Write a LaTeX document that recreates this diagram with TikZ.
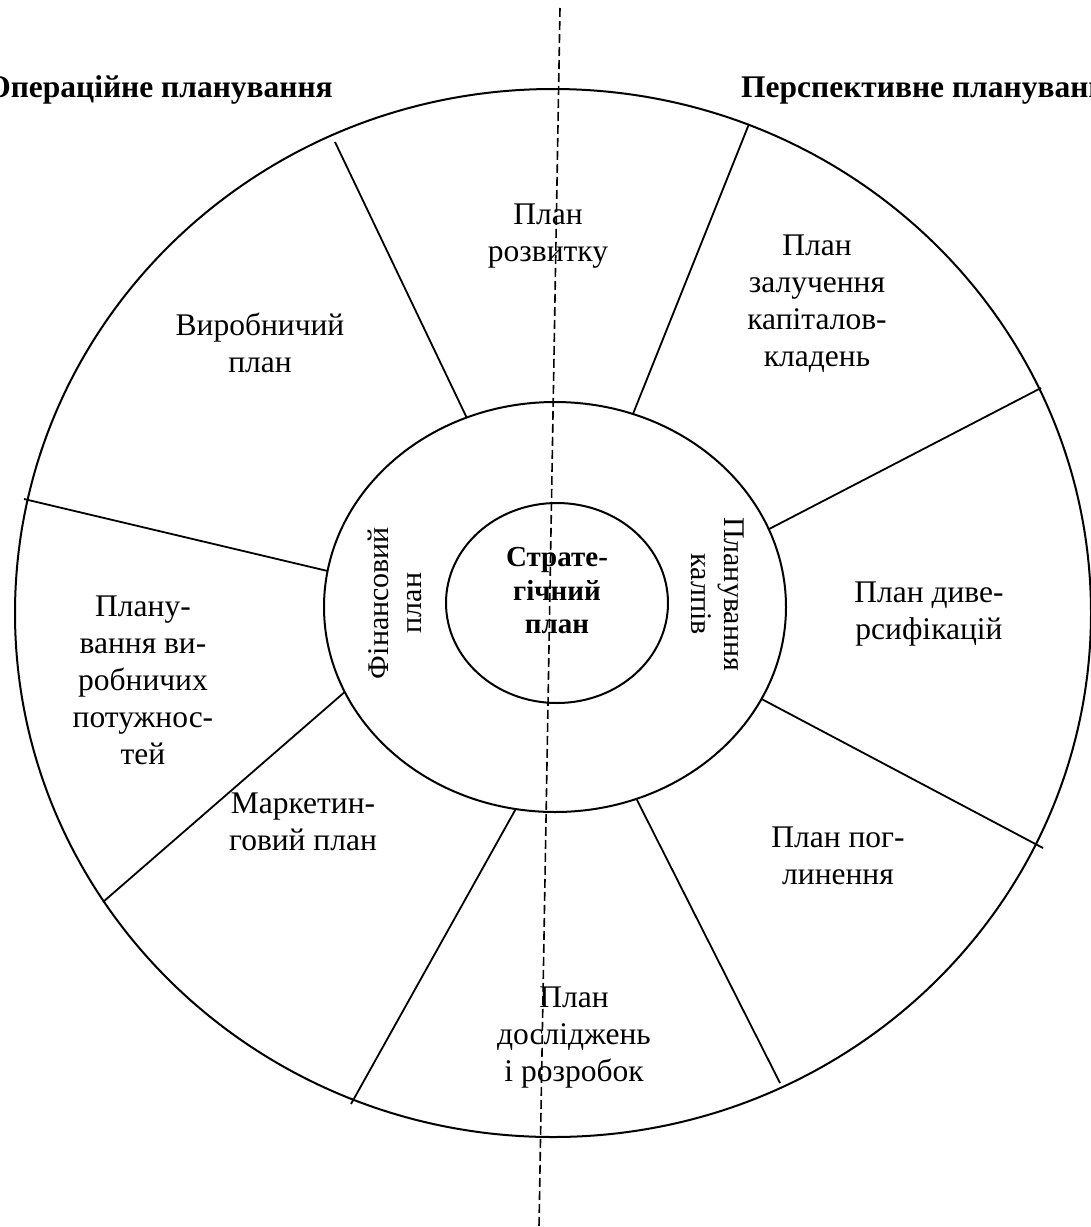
\documentclass[tikz,border=0pt]{standalone}
\usepackage{fontspec}
\setmainfont{Liberation Serif}
\usetikzlibrary{shapes.geometric}
\begin{document}
\begin{tikzpicture}[x=1pt,y=-1pt,
  ring/.style={draw, ellipse, line width=2pt, inner sep=0pt, outer sep=0pt},
  spoke/.style={line width=1.8pt},
  axisline/.style={line width=1.6pt, dash pattern=on 9pt off 4pt},
  lbl/.style={align=center, inner sep=0pt, font=\fontsize{31.5}{37}\selectfont},
  vlbl/.style={align=center, inner sep=0pt, font=\fontsize{30}{33}\selectfont},
  core/.style={align=center, inner sep=0pt, font=\fontsize{29}{33.5}\selectfont\bfseries},
  ttl/.style={inner sep=0pt, font=\fontsize{31.5}{36}\selectfont\bfseries}]
\useasboundingbox (0,0) rectangle (1091,1227);
\fill[white] (0,0) rectangle (1091,1227);

% three nested rings
\node[ring, minimum width=1076pt, minimum height=1048pt] (outer) at (553,613) {};
\node[ring, minimum width=462pt, minimum height=410pt] (middle) at (555,607) {};
\node[ring, minimum width=222pt, minimum height=200pt] (inner) at (557,603) {};

% outer ends of the spokes
\coordinate (o1) at (335,142);
\coordinate (o2) at (749,124);
\coordinate (o3) at (1041,388);
\coordinate (o4) at (1043,848);
\coordinate (o5) at (780,1083);
\coordinate (o6) at (351,1104);
\coordinate (o7) at (103,902);
\coordinate (o8) at (24,499);

\draw[spoke] (o1) -- (middle.115.6);
\draw[spoke] (o2) -- (middle.68.4);
\draw[spoke] (o3) -- (middle.20.6);
\draw[spoke] (o4) -- (middle.-24.1);
\draw[spoke] (o5) -- (middle.-67.9);
\draw[spoke] (o6) -- (middle.-101.6);
\draw[spoke] (o7) -- (middle.202.4);
\draw[spoke] (o8) -- (middle.171.6);

% dividing axis
\coordinate (dtop) at (560,8);
\coordinate (dbot) at (539,1227);
\draw[axisline] (dtop) -- (dbot);

% sector texts
\node[lbl] (rozv) at (548,236) {План\\розвитку};
\node[lbl] (zal) at (817,304) {План\\залучення\\капіталов-\\кладень};
\node[lbl] (vyr) at (260,343) {Виробничий\\план};
\node[lbl] (dyv) at (929,614) {План диве-\\рсифікацій};
\node[lbl] (pogl) at (838,856) {План пог-\\линення};
\node[lbl] (potuzh) at (143,680) {Плану-\\вання ви-\\робничих\\потужнос-\\тей};
\node[lbl] (mark) at (303,822) {Маркетин-\\говий план};
\node[lbl] (dosl) at (574,1038) {План\\досліджень\\і розробок};

% middle ring texts
\node[vlbl, rotate=90] (fin) at (395,603) {Фінансовий\\план};
\node[vlbl, rotate=-90] (kap) at (718,594) {Планування\\калпів};

% core
\node[core] (strat) at (557,591) {Страте-\\гічний\\план};

% headings
\node[ttl, anchor=base east] (oper) at (333,97) {Операційне планування};
\node[ttl, anchor=base west] (persp) at (741,97) {Перспективне планування};
\end{tikzpicture}
\end{document}
